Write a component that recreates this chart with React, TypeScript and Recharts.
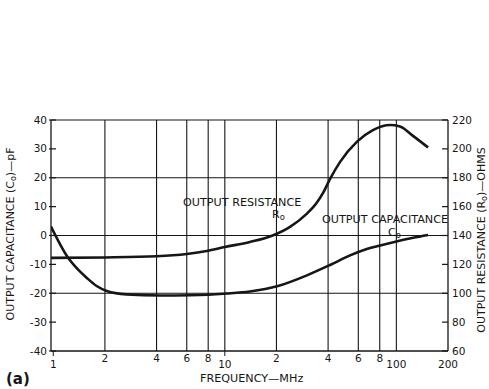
import React from 'react';
import { ComposedChart, Line, XAxis, YAxis, ReferenceLine } from 'recharts';

// frequency (MHz) samples
const capFreqs = [0.97, 1.22, 1.37, 1.57, 1.79, 2.05, 2.68, 4.19, 6.27, 10.3, 14, 20.4, 30.1, 41.1, 53.7, 67.2, 100, 125, 153];
const capValues = [3.1, -7.7, -11.3, -14.7, -17.5, -19.2, -20.4, -20.8, -20.7, -20.1, -19.4, -17.5, -13.8, -10.2, -6.9, -4.7, -2.1, -0.8, 0.2];

const resFreqs = [0.97, 2, 4, 6, 8, 10, 14, 19, 24, 30, 34, 37.4, 41, 47, 59, 73, 92, 105, 125, 153];
const resValues = [124.5, 124.8, 125.6, 127.2, 129.5, 132, 135.5, 140, 146, 155, 162, 169.5, 179, 191, 205, 213, 216.5, 215.5, 209, 201];

const freqTicks = [1, 2, 4, 6, 8, 10, 20, 40, 60, 80, 100, 200];
const freqTickLabels = ['1', '2', '4', '6', '8', '10', '2', '4', '6', '8', '100', '200'];
const capTicks = [40, 30, 20, 10, 0, -10, -20, -30, -40];
const resTicks = [220, 200, 180, 160, 140, 120, 100, 80, 60];

const gridFreqs = [2, 4, 6, 8, 10, 20, 40, 60, 80, 100];
const gridCaps = [40, 20, 0, -20];

const capData = capFreqs.map((f, i) => ({ f, c: capValues[i] }));
const resData = resFreqs.map((f, i) => ({ f, r: resValues[i] }));

const INK = '#161616';
const FONT = '"DejaVu Sans", sans-serif';

const FreqTick = (props: any) => {
  const { x, y, payload } = props;
  const i = freqTicks.indexOf(payload.value);
  const decade = [1, 10, 100, 200].includes(payload.value);
  return (
    <g>
      {(payload.value === 1 || payload.value === 10) && (
        <line x1={x} x2={x} y1={y} y2={y + 5} stroke={INK} strokeWidth={1} />
      )}
      <text x={x} y={y + (decade ? 17 : 11)} textAnchor="middle" fontSize={10.5} fill={INK} fontFamily={FONT}>
        {freqTickLabels[i]}
      </text>
    </g>
  );
};

const CapTick = (props: any) => {
  const { x, y, payload } = props;
  const ax = x + 4;
  return (
    <g>
      <line x1={ax - 2} x2={ax + 5} y1={y} y2={y} stroke={INK} strokeWidth={1.2} />
      <text x={x} y={y + 3.6} textAnchor="end" fontSize={10.5} fill={INK} fontFamily={FONT}>
        {payload.value}
      </text>
    </g>
  );
};

const ResTick = (props: any) => {
  const { x, y, payload } = props;
  const ax = x - 4;
  return (
    <g>
      <line x1={ax - 6} x2={ax} y1={y} y2={y} stroke={INK} strokeWidth={1.2} />
      <text x={x} y={y + 3.6} textAnchor="start" fontSize={10.5} fill={INK} fontFamily={FONT}>
        {payload.value}
      </text>
    </g>
  );
};

export default function App() {
  return (
    <div style={{ position: 'absolute', left: 0, top: 0, width: 489, height: 389, background: '#fff' }}>
      <ComposedChart
        width={489}
        height={389}
        margin={{ top: 120, right: 0, bottom: 0, left: 0 }}
        style={{ fontFamily: FONT }}
      >
        <XAxis
          dataKey="f"
          type="number"
          scale="log"
          domain={[0.97, 200]}
          allowDataOverflow
          ticks={freqTicks}
          interval={0}
          height={38}
          tickSize={0}
          tickMargin={0}
          tickLine={false}
          axisLine={{ stroke: INK, strokeWidth: 1.3 }}
          tick={<FreqTick />}
        />
        <YAxis
          yAxisId="left"
          orientation="left"
          domain={[-40, 40]}
          ticks={capTicks}
          interval={0}
          width={51}
          tickSize={0}
          tickMargin={4}
          tickLine={false}
          axisLine={{ stroke: INK, strokeWidth: 1.3 }}
          tick={<CapTick />}
        />
        <YAxis
          yAxisId="right"
          orientation="right"
          domain={[60, 220]}
          ticks={resTicks}
          interval={0}
          width={41}
          tickSize={0}
          tickMargin={4}
          tickLine={false}
          axisLine={{ stroke: INK, strokeWidth: 1.3 }}
          tick={<ResTick />}
        />
        {gridCaps.map((v) => (
          <ReferenceLine key={'h' + v} yAxisId="left" y={v} stroke={INK} strokeWidth={1.1} />
        ))}
        {gridFreqs.map((f) => (
          <ReferenceLine key={'v' + f} yAxisId="left" x={f} stroke={INK} strokeWidth={1.1} />
        ))}
        <Line
          data={resData}
          dataKey="r"
          yAxisId="right"
          type="monotone"
          stroke={INK}
          strokeWidth={2.6}
          dot={false}
          isAnimationActive={false}
        />
        <Line
          data={capData}
          dataKey="c"
          yAxisId="left"
          type="monotone"
          stroke={INK}
          strokeWidth={2.6}
          dot={false}
          isAnimationActive={false}
        />
      </ComposedChart>
      <svg
        width={489}
        height={389}
        style={{ position: 'absolute', left: 0, top: 0, pointerEvents: 'none' }}
        fontFamily={FONT}
        fill={INK}
      >
        <text x={183} y={206} fontSize={11.2}>OUTPUT RESISTANCE</text>
        <text x={272} y={218} fontSize={11}>
          R<tspan fontSize={8.5} dy={2}>o</tspan>
        </text>
        <text x={322} y={223} fontSize={11.2}>OUTPUT CAPACITANCE</text>
        <text x={388} y={236} fontSize={11}>
          C<tspan fontSize={8.5} dy={2}>o</tspan>
        </text>
        <text x={6} y={384} fontSize={15} fontWeight="bold">(a)</text>
        <text x={200} y={382} fontSize={11.2}>FREQUENCY—MHz</text>
        <text transform="translate(14,234) rotate(-90)" textAnchor="middle" fontSize={11}>
          OUTPUT CAPACITANCE (C<tspan fontSize={8} dy={1.5}>o</tspan>
          <tspan dy={-1.5}>)—pF</tspan>
        </text>
        <text transform="translate(485,240) rotate(-90)" textAnchor="middle" fontSize={11}>
          OUTPUT RESISTANCE (R<tspan fontSize={8} dy={1.5}>o</tspan>
          <tspan dy={-1.5}>)—OHMS</tspan>
        </text>
      </svg>
    </div>
  );
}
